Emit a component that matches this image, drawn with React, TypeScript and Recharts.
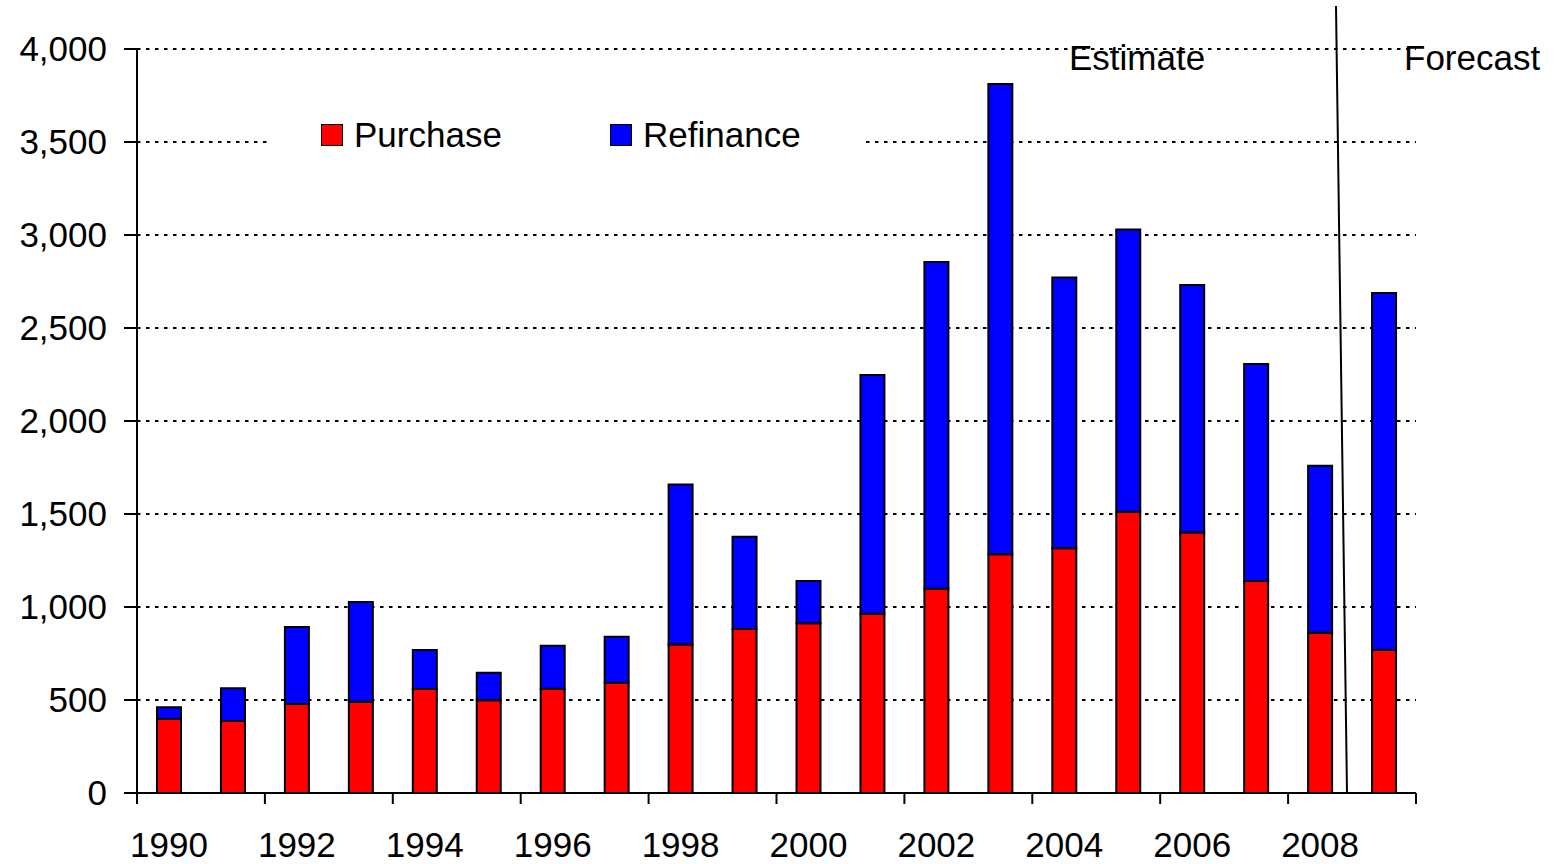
import React from 'react';
import { BarChart, Bar, XAxis, YAxis, CartesianGrid, Legend } from 'recharts';

const years = [1990, 1991, 1992, 1993, 1994, 1995, 1996, 1997, 1998, 1999, 2000, 2001, 2002, 2003, 2004, 2005, 2006, 2007, 2008, 2009];
const purchase = [398, 387, 478, 491, 559, 498, 560, 593, 799, 882, 912, 964, 1098, 1284, 1316, 1512, 1400, 1140, 862, 769];
const refinance = [63, 176, 414, 536, 210, 149, 231, 247, 859, 496, 228, 1283, 1757, 2528, 1456, 1517, 1331, 1166, 898, 1919];
const yTicks = [0, 500, 1000, 1500, 2000, 2500, 3000, 3500, 4000];
const seriesNames = ['Purchase', 'Refinance'];
const seriesColors = ['#ff0000', '#0000ff'];
const annotationLabels = ['Estimate', 'Forecast'];

const data = years.map((yr, i) => ({ year: yr, purchase: purchase[i], refinance: refinance[i] }));

const FONT = '"Liberation Sans", Arial, sans-serif';
const W = 1560;
const H = 864;
const MARGIN = { top: 49, right: 144, bottom: 0, left: 0 };
const YW = 137;
const XH = 71;
const BAND = (W - MARGIN.right - MARGIN.left - YW) / years.length;

function XTick(props: any) {
  const { x, y, payload, index } = props;
  const yr = Number(payload.value);
  const els: any[] = [];
  if (yr % 2 === 0) {
    els.push(<line key="t" x1={x - BAND / 2} x2={x - BAND / 2} y1={y} y2={y + 11} stroke="#000" strokeWidth={2} />);
    els.push(
      <text key="l" x={x} y={y + 64} textAnchor="middle" fill="#000" fontSize={35} fontFamily={FONT}>
        {yr}
      </text>
    );
  }
  if (index === years.length - 1) {
    els.push(<line key="e" x1={x + BAND / 2} x2={x + BAND / 2} y1={y} y2={y + 11} stroke="#000" strokeWidth={2} />);
  }
  return <g>{els}</g>;
}

function LegendContent(props: any) {
  const payload = props.payload || [];
  const lefts = [53, 342];
  return (
    <div style={{ position: 'relative', width: '100%', height: '100%' }}>
      {payload.map((p: any, i: number) => (
        <div
          key={i}
          style={{
            position: 'absolute',
            left: lefts[i],
            top: 0,
            height: 46,
            display: 'flex',
            alignItems: 'center',
            gap: 11,
            fontFamily: FONT,
            fontSize: 35,
            color: '#000',
            whiteSpace: 'nowrap',
          }}
        >
          <div style={{ width: 20, height: 20, background: p.color, border: '1.5px solid #000' }} />
          <span>{p.value}</span>
        </div>
      ))}
    </div>
  );
}

export default function App() {
  return (
    <div style={{ position: 'absolute', left: 0, top: 0, width: W, height: H, background: '#fff' }}>
      <BarChart width={W} height={H} data={data} margin={MARGIN}>
        <CartesianGrid vertical={false} stroke="#000" strokeDasharray="3.5 5.5" strokeWidth={2} />
        <XAxis
          dataKey="year"
          height={XH}
          interval={0}
          tickSize={0}
          tickMargin={0}
          tickLine={false}
          axisLine={{ stroke: '#000', strokeWidth: 2 }}
          tick={(p: any) => <XTick {...p} />}
        />
        <YAxis
          width={YW}
          domain={[0, 4000]}
          ticks={yTicks}
          interval={0}
          tickSize={13}
          tickMargin={17}
          axisLine={{ stroke: '#000', strokeWidth: 2 }}
          tickLine={{ stroke: '#000', strokeWidth: 2 }}
          tick={{ fill: '#000', fontSize: 35, fontFamily: FONT }}
          tickFormatter={(v: number) => v.toLocaleString('en-US')}
        />
        <Legend
          layout="horizontal"
          verticalAlign="middle"
          align="center"
          wrapperStyle={{ left: 268, top: 112, width: 598, height: 48, background: '#fff' }}
          content={(p: any) => <LegendContent {...p} />}
        />
        <Bar dataKey="purchase" name={seriesNames[0]} stackId="a" fill={seriesColors[0]} stroke="#000" strokeWidth={2} barSize={24} isAnimationActive={false} />
        <Bar dataKey="refinance" name={seriesNames[1]} stackId="a" fill={seriesColors[1]} stroke="#000" strokeWidth={2} barSize={24} isAnimationActive={false} />
      </BarChart>
      <svg width={W} height={H} style={{ position: 'absolute', left: 0, top: 0, pointerEvents: 'none' }}>
        <line x1={1336} y1={6} x2={1347} y2={793} stroke="#000" strokeWidth={2} />
        <text x={1069} y={70} fill="#000" fontSize={35} fontFamily={FONT}>{annotationLabels[0]}</text>
        <text x={1404} y={70} fill="#000" fontSize={35} fontFamily={FONT}>{annotationLabels[1]}</text>
      </svg>
    </div>
  );
}
